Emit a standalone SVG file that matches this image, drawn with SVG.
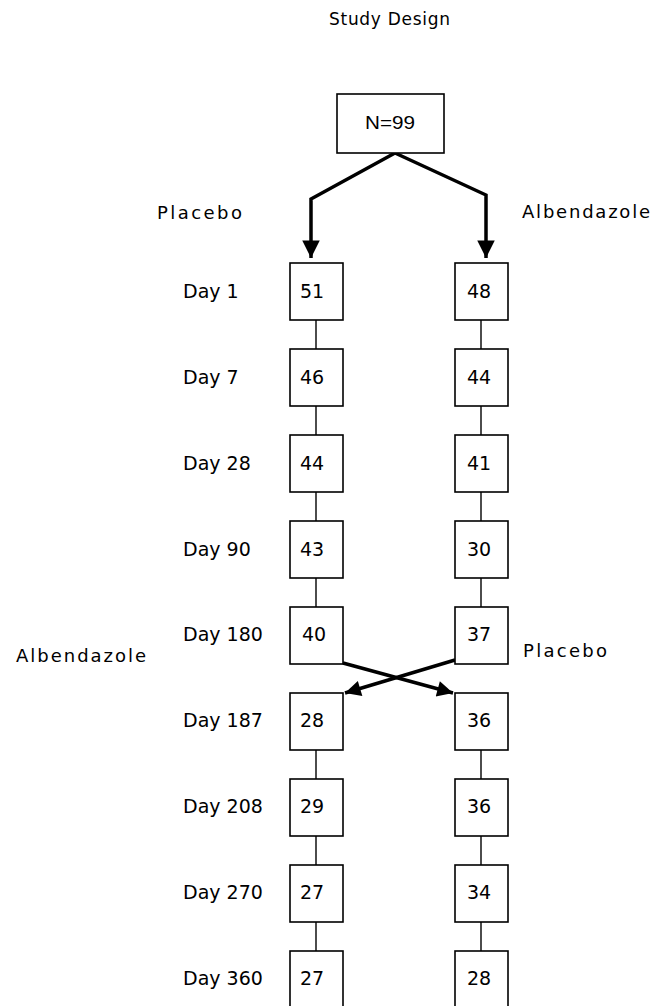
<svg xmlns="http://www.w3.org/2000/svg" width="665" height="1006" viewBox="0 0 665 1006">
<style>
.box{fill:#fff;stroke:#000;stroke-width:1.6}
.num{font-family:"DejaVu Sans",sans-serif;font-size:19px;fill:#000;text-anchor:middle}
.day{font-family:"DejaVu Sans",sans-serif;font-size:19px;fill:#000}
.arm{font-family:"DejaVu Sans",sans-serif;font-size:18px;fill:#000}
.ttl{font-family:"DejaVu Sans",sans-serif;font-size:17px;fill:#000}
.thin{stroke:#000;stroke-width:1.4;fill:none}
.thick{stroke:#000;stroke-width:3.5;fill:none;stroke-linejoin:miter}
</style>
<defs>
<marker id="ah" viewBox="0 0 10 10" refX="10" refY="5" markerWidth="5.5" markerHeight="5" markerUnits="strokeWidth" orient="auto">
<path d="M0,0 L10,5 L0,10 z" fill="#000"/>
</marker>
<marker id="ah2" viewBox="0 0 10 10" refX="10" refY="5" markerWidth="7" markerHeight="4.5" markerUnits="strokeWidth" orient="auto">
<path d="M0,0 L10,5 L0,10 z" fill="#000"/>
</marker>
</defs>
<rect width="665" height="1006" fill="#fff"/>
<text class="ttl" x="329" y="25" textLength="121" lengthAdjust="spacing">Study Design</text>
<text class="arm" x="157" y="219" textLength="85" lengthAdjust="spacing">Placebo</text>
<text class="arm" x="522" y="218" textLength="128" lengthAdjust="spacing">Albendazole</text>
<text class="arm" x="16" y="662" textLength="130" lengthAdjust="spacing">Albendazole</text>
<text class="arm" x="523" y="657" textLength="84" lengthAdjust="spacing">Placebo</text>

<g id="connectors">
<path class="thick" d="M395,153 L311,199 L311,258" marker-end="url(#ah)"/>
<path class="thick" d="M395,153 L486,195 L486,258" marker-end="url(#ah)"/>
<path class="thick" d="M343,663 L453,693" marker-end="url(#ah2)"/>
<path class="thick" d="M455,660 L345,693" marker-end="url(#ah2)"/>
<line class="thin" x1="316" y1="320" x2="316" y2="349"/>
<line class="thin" x1="316" y1="406" x2="316" y2="435"/>
<line class="thin" x1="316" y1="492" x2="316" y2="521"/>
<line class="thin" x1="316" y1="578" x2="316" y2="607"/>
<line class="thin" x1="316" y1="750" x2="316" y2="779"/>
<line class="thin" x1="316" y1="836" x2="316" y2="865"/>
<line class="thin" x1="316" y1="922" x2="316" y2="951"/>
<line class="thin" x1="481" y1="320" x2="481" y2="349"/>
<line class="thin" x1="481" y1="406" x2="481" y2="435"/>
<line class="thin" x1="481" y1="492" x2="481" y2="521"/>
<line class="thin" x1="481" y1="578" x2="481" y2="607"/>
<line class="thin" x1="481" y1="750" x2="481" y2="779"/>
<line class="thin" x1="481" y1="836" x2="481" y2="865"/>
<line class="thin" x1="481" y1="922" x2="481" y2="951"/>
</g>

<g id="n99"><rect class="box" x="337" y="94" width="107" height="59"/><text x="390" y="129" font-family="Liberation Sans, sans-serif" font-size="19" text-anchor="middle" textLength="50" lengthAdjust="spacingAndGlyphs">N=99</text></g>

<g id="day1"><text class="day" x="183" y="298">Day 1</text>
<g id="p1"><rect class="box" x="290" y="263" width="53" height="57"/><text class="num" x="312" y="298">51</text></g>
<g id="a1"><rect class="box" x="455" y="263" width="53" height="57"/><text class="num" x="479" y="298">48</text></g></g>

<g id="day7"><text class="day" x="183" y="384">Day 7</text>
<g id="p7"><rect class="box" x="290" y="349" width="53" height="57"/><text class="num" x="312" y="384">46</text></g>
<g id="a7"><rect class="box" x="455" y="349" width="53" height="57"/><text class="num" x="479" y="384">44</text></g></g>

<g id="day28"><text class="day" x="183" y="470">Day 28</text>
<g id="p28"><rect class="box" x="290" y="435" width="53" height="57"/><text class="num" x="312" y="470">44</text></g>
<g id="a28"><rect class="box" x="455" y="435" width="53" height="57"/><text class="num" x="479" y="470">41</text></g></g>

<g id="day90"><text class="day" x="183" y="556">Day 90</text>
<g id="p90"><rect class="box" x="290" y="521" width="53" height="57"/><text class="num" x="312" y="556">43</text></g>
<g id="a90"><rect class="box" x="455" y="521" width="53" height="57"/><text class="num" x="479" y="556">30</text></g></g>

<g id="day180"><text class="day" x="183" y="641">Day 180</text>
<g id="p180"><rect class="box" x="290" y="607" width="53" height="57"/><text class="num" x="314" y="641">40</text></g>
<g id="a180"><rect class="box" x="455" y="607" width="53" height="57"/><text class="num" x="479" y="641">37</text></g></g>

<g id="day187"><text class="day" x="183" y="727">Day 187</text>
<g id="p187"><rect class="box" x="290" y="693" width="53" height="57"/><text class="num" x="312" y="727">28</text></g>
<g id="a187"><rect class="box" x="455" y="693" width="53" height="57"/><text class="num" x="479" y="727">36</text></g></g>

<g id="day208"><text class="day" x="183" y="813">Day 208</text>
<g id="p208"><rect class="box" x="290" y="779" width="53" height="57"/><text class="num" x="312" y="813">29</text></g>
<g id="a208"><rect class="box" x="455" y="779" width="53" height="57"/><text class="num" x="479" y="813">36</text></g></g>

<g id="day270"><text class="day" x="183" y="899">Day 270</text>
<g id="p270"><rect class="box" x="290" y="865" width="53" height="57"/><text class="num" x="312" y="899">27</text></g>
<g id="a270"><rect class="box" x="455" y="865" width="53" height="57"/><text class="num" x="479" y="899">34</text></g></g>

<g id="day360"><text class="day" x="183" y="985">Day 360</text>
<g id="p360"><rect class="box" x="290" y="951" width="53" height="60"/><text class="num" x="312" y="985">27</text></g>
<g id="a360"><rect class="box" x="455" y="951" width="53" height="60"/><text class="num" x="479" y="985">28</text></g></g>
</svg>
